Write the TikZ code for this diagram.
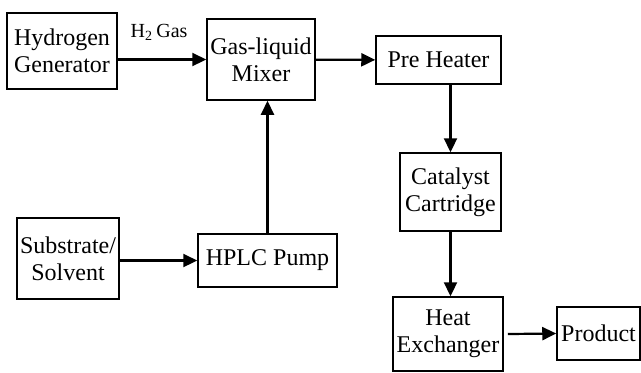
\documentclass[tikz,border=0pt]{standalone}
\usepackage{fontspec}
\setmainfont{Liberation Serif}
\usetikzlibrary{arrows.meta,positioning,calc}

\begin{document}
\begin{tikzpicture}[
    x=0.5pt, y=-0.5pt,
    box/.style={rectangle, draw, line width=0.75pt, inner sep=0pt, align=center, font=\fontsize{12}{13.5}\selectfont},
    arrow/.style={line width=1.1pt, -{Triangle[length=7pt,width=6.5pt]}}
]
\useasboundingbox (0,0) rectangle (641,372);

% Feed side
\node [box, minimum width=55pt, minimum height=38pt] at (62,51) (gen) {Hydrogen\\Generator};
\node [box, minimum width=51pt, minimum height=40.5pt] at (68,258.5) (substrate) {Substrate/\\Solvent};
\node [box, minimum width=69.5pt, minimum height=26.5pt] at (267.5,260.5) (pump) {HPLC Pump};

% Mixer
\node [box, minimum width=54pt, minimum height=40.5pt] at (261,59.5) (mixer) {Gas-liquid\\Mixer};

% Reactor line
\node [box, minimum width=62.5pt, minimum height=24pt] at (438.5,60) (preheat) {Pre Heater};
\node [box, minimum width=50.5pt, minimum height=39pt] at (450.5,192) (catalyst) {Catalyst\\Cartridge};
\node [box, minimum width=55pt, minimum height=37pt] at (448,334) (exchanger) {Heat\\Exchanger};
\node [box, minimum width=41.5pt, minimum height=26.5pt] at (598.5,333.5) (product) {Product};

% Arrows
\draw [arrow] (gen.east |- mixer.west) -- (mixer.west);
\draw [arrow] (mixer) -- (preheat);
\draw [arrow] (catalyst.north |- preheat.south) -- (catalyst.north);
\draw [arrow] (catalyst.south) -- (catalyst.south |- exchanger.north);
\draw [arrow] ([xshift=2pt]exchanger.east) -- (product.west);
\draw [arrow] (substrate.east |- pump.west) -- (pump.west);
\draw [arrow] (pump.north) -- (pump.north |- mixer.south);

% Connection label
\node [font=\fontsize{10}{12}\selectfont] at (159,32) (gaslabel) {H\textsubscript{2}\,Gas};

\end{tikzpicture}
\end{document}
